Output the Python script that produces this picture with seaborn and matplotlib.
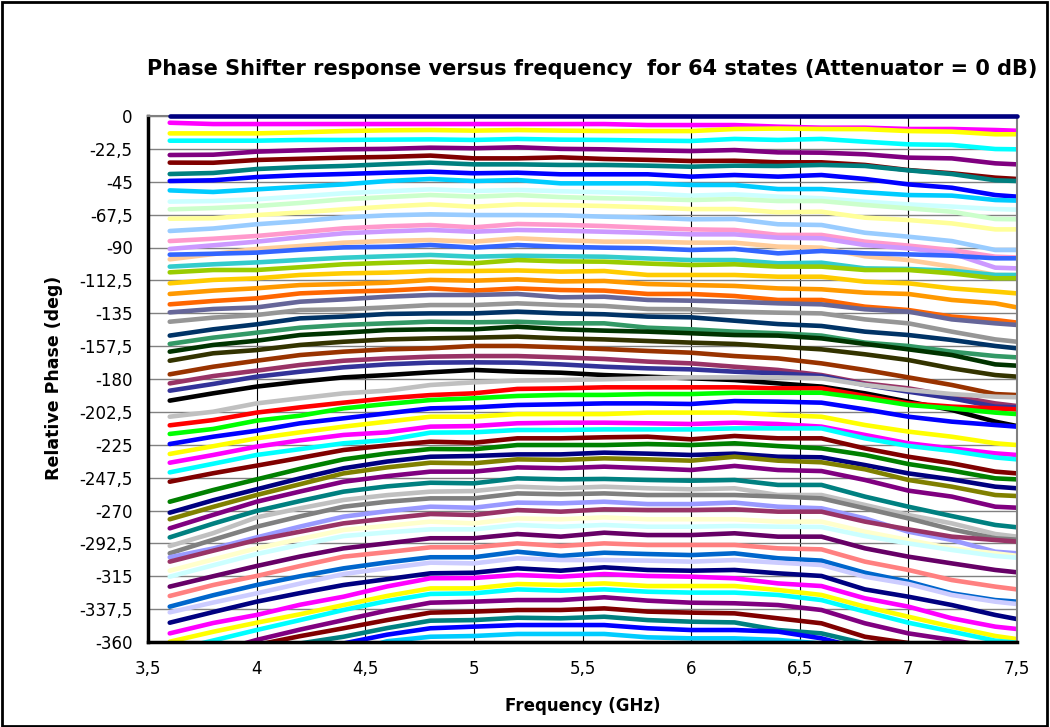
import matplotlib
matplotlib.use("Agg")
import matplotlib.pyplot as plt
from matplotlib.patches import Rectangle
import seaborn as sns
import pandas as pd

# frequency points of the sweep (GHz)
freq_ghz = [3.6, 3.8, 4.0, 4.2, 4.4, 4.6, 4.8, 5.0, 5.2, 5.4, 5.6,
            5.8, 6.0, 6.2, 6.4, 6.6, 6.8, 7.0, 7.2, 7.4, 7.5]

# relative phase (deg) of each of the 64 states
state_00 = [0.0] * 21
state_01 = [-4.6, -5.5, -5.5, -5.5, -5.5, -5.5, -5.5, -5.5, -5.5, -5.5, -5.5, -6.2, -6.2, -6.2, -7.3, -8.0, -8.0, -8.9, -8.9, -9.6, -10.1]
state_02 = [-11.9, -11.9, -11.9, -11.2, -10.3, -9.8, -9.6, -10.0, -9.6, -10.0, -10.3, -10.3, -10.3, -8.9, -8.6, -8.9, -9.0, -10.3, -10.7, -12.5, -12.5]
state_03 = [-16.9, -16.9, -16.9, -16.4, -16.4, -16.2, -16.0, -16.4, -15.7, -16.2, -16.4, -16.8, -17.1, -15.7, -16.4, -15.7, -17.6, -19.4, -19.8, -22.6, -22.8]
state_04 = [-26.7, -26.5, -24.4, -23.5, -22.8, -22.5, -21.7, -22.1, -21.4, -22.5, -22.8, -23.5, -24.0, -23.3, -24.9, -25.1, -26.2, -28.5, -29.0, -32.4, -33.1]
state_05 = [-31.9, -32.0, -30.1, -29.3, -28.5, -28.0, -27.1, -29.0, -29.0, -28.3, -29.4, -30.0, -30.8, -30.6, -31.7, -31.7, -33.5, -37.0, -39.2, -42.2, -43.1]
state_06 = [-39.7, -39.0, -36.3, -35.0, -34.2, -33.0, -31.9, -33.1, -33.1, -33.5, -33.5, -34.0, -34.7, -34.0, -34.2, -33.5, -34.2, -37.2, -39.7, -44.0, -44.5]
state_07 = [-44.5, -44.0, -41.8, -40.5, -39.7, -38.8, -38.1, -39.2, -38.8, -39.9, -39.9, -39.9, -41.5, -40.4, -41.5, -40.4, -43.1, -46.8, -49.1, -54.1, -55.2]
state_08 = [-50.9, -52.0, -50.2, -48.5, -46.8, -44.5, -43.1, -44.5, -43.8, -46.1, -46.1, -46.1, -47.2, -47.2, -50.0, -50.0, -52.2, -54.1, -54.5, -57.5, -57.9]
state_09 = [-58.6, -58.2, -57.0, -55.0, -52.9, -51.5, -50.2, -51.3, -50.6, -51.5, -52.2, -53.0, -54.5, -53.6, -55.2, -56.3, -58.6, -60.5, -62.0, -63.7, -64.1]
state_10 = [-63.9, -63.0, -61.6, -59.5, -57.0, -55.5, -54.1, -55.2, -54.1, -55.5, -56.3, -56.8, -57.5, -56.8, -58.2, -58.2, -60.9, -63.2, -65.5, -70.5, -70.7]
state_11 = [-70.3, -70.0, -67.8, -66.0, -63.9, -62.0, -60.5, -62.1, -60.5, -61.0, -61.6, -62.5, -63.7, -63.7, -65.9, -65.5, -69.6, -71.2, -73.5, -77.6, -77.6]
state_12 = [-78.7, -77.0, -74.1, -72.0, -69.4, -68.0, -67.3, -67.8, -67.8, -68.0, -68.9, -69.5, -70.7, -70.5, -74.1, -74.6, -79.9, -82.6, -85.6, -91.7, -91.7]
state_13 = [-85.6, -84.0, -82.1, -79.5, -76.9, -75.5, -74.6, -76.2, -73.9, -74.5, -75.3, -76.5, -77.6, -78.0, -81.4, -81.4, -86.0, -88.7, -91.7, -96.3, -96.8]
state_14 = [-91.0, -88.5, -86.0, -83.0, -80.3, -79.0, -78.0, -79.2, -78.0, -78.5, -79.2, -80.0, -81.0, -81.0, -83.3, -83.7, -88.3, -90.6, -94.0, -103.8, -104.3]
state_15 = [-98.1, -94.5, -91.0, -89.0, -86.7, -85.5, -84.9, -86.0, -83.7, -85.0, -86.0, -86.0, -86.7, -86.7, -89.4, -90.1, -96.0, -98.6, -103.1, -108.8, -109.0]
state_16 = [-94.9, -94.3, -93.5, -91.5, -89.9, -89.5, -88.3, -90.1, -88.3, -89.5, -90.1, -90.5, -91.7, -91.0, -94.0, -92.4, -94.0, -94.7, -95.6, -97.4, -97.4]
state_17 = [-103.1, -101.5, -100.2, -98.5, -97.0, -96.0, -95.1, -96.3, -95.6, -96.0, -96.3, -97.5, -98.6, -98.6, -100.8, -100.4, -104.3, -104.7, -105.9, -108.8, -108.8]
state_18 = [-107.0, -105.4, -105.4, -103.5, -101.5, -100.5, -99.7, -100.8, -98.6, -99.5, -99.7, -101.0, -102.0, -101.5, -103.1, -103.1, -105.4, -105.4, -107.7, -111.1, -111.0]
state_19 = [-114.5, -112.2, -111.1, -108.8, -107.7, -107.2, -106.1, -106.1, -105.7, -106.5, -106.1, -108.8, -108.8, -108.8, -110.0, -110.0, -113.4, -114.5, -118.0, -120.2, -121.4]
state_20 = [-121.8, -119.5, -117.9, -115.7, -115.0, -114.1, -112.2, -112.7, -111.8, -113.2, -112.9, -115.0, -115.7, -116.3, -118.0, -118.6, -120.9, -121.8, -125.9, -128.2, -131.0]
state_21 = [-128.9, -126.6, -124.8, -121.4, -120.2, -119.5, -118.0, -119.5, -118.0, -119.1, -119.5, -121.8, -121.8, -123.2, -125.9, -125.9, -130.5, -132.8, -137.3, -139.6, -141.4]
state_22 = [-134.4, -132.1, -131.0, -127.1, -125.5, -123.7, -122.5, -122.5, -121.8, -124.1, -123.7, -125.9, -126.4, -127.1, -128.2, -128.9, -132.3, -133.9, -139.2, -141.9, -143.0]
state_23 = [-140.8, -138.0, -136.2, -132.8, -132.3, -131.0, -129.4, -129.4, -128.2, -129.4, -130.0, -132.1, -132.3, -133.9, -134.6, -135.1, -139.2, -141.9, -147.6, -152.9, -154.5]
state_24 = [-150.3, -146.0, -142.6, -138.5, -137.3, -135.5, -135.1, -135.1, -133.9, -135.1, -135.7, -137.3, -137.8, -140.1, -142.4, -143.7, -147.6, -149.9, -153.3, -157.4, -159.0]
state_25 = [-156.0, -151.7, -148.3, -144.9, -143.0, -141.9, -140.8, -141.2, -140.8, -141.9, -141.9, -144.9, -146.0, -147.6, -148.7, -150.3, -155.1, -157.4, -161.3, -164.3, -165.2]
state_26 = [-161.3, -156.7, -153.8, -149.9, -148.3, -146.5, -146.0, -146.0, -144.2, -146.0, -146.9, -147.6, -148.7, -149.9, -150.3, -152.2, -156.0, -159.7, -163.6, -170.0, -170.9]
state_27 = [-167.5, -162.4, -160.2, -156.7, -154.5, -152.9, -152.2, -151.7, -151.0, -152.2, -152.9, -154.0, -155.1, -156.0, -157.9, -159.7, -163.1, -167.0, -172.7, -177.3, -178.4]
state_28 = [-176.8, -171.6, -167.5, -163.6, -161.3, -159.7, -159.0, -157.4, -157.4, -158.3, -159.5, -160.8, -162.0, -164.3, -165.9, -169.3, -173.8, -178.9, -184.1, -190.3, -191.0]
state_29 = [-183.0, -178.0, -174.3, -170.4, -167.5, -165.9, -164.7, -164.3, -164.3, -165.2, -166.3, -168.1, -169.3, -171.6, -173.8, -177.3, -183.0, -186.4, -191.6, -196.7, -198.5]
state_30 = [-188.0, -183.4, -178.4, -175.0, -172.0, -170.0, -168.8, -168.6, -168.8, -170.0, -171.6, -172.7, -173.4, -175.0, -176.1, -178.0, -184.1, -188.7, -193.2, -198.9, -199.4]
state_31 = [-194.8, -189.8, -185.2, -181.8, -178.9, -177.3, -175.4, -173.8, -175.0, -175.7, -177.3, -178.4, -179.5, -180.7, -183.0, -185.2, -189.8, -195.5, -201.2, -209.2, -212.2]
state_32 = [-205.8, -202.4, -196.7, -193.2, -189.8, -188.0, -184.1, -182.3, -181.1, -180.7, -180.2, -179.5, -178.9, -178.9, -178.9, -179.5, -184.1, -187.5, -190.3, -192.1, -192.5]
state_33 = [-211.7, -208.1, -203.0, -199.4, -196.2, -193.2, -191.0, -189.8, -186.8, -186.4, -185.7, -185.7, -185.7, -185.7, -186.4, -186.4, -191.6, -196.7, -198.9, -200.1, -200.8]
state_34 = [-217.6, -214.2, -208.5, -205.1, -200.1, -197.1, -194.4, -193.2, -191.6, -190.9, -190.9, -190.3, -190.3, -189.4, -189.4, -189.4, -193.2, -197.8, -200.1, -203.0, -204.0]
state_35 = [-224.5, -219.5, -215.4, -210.3, -206.9, -203.5, -200.1, -199.4, -197.8, -197.3, -196.7, -196.7, -197.1, -195.1, -195.5, -196.2, -200.8, -205.8, -209.2, -211.5, -212.6]
state_36 = [-231.3, -226.0, -220.6, -216.5, -212.6, -209.2, -205.8, -205.8, -204.0, -204.0, -204.0, -203.0, -203.0, -203.0, -204.6, -205.8, -211.5, -216.0, -219.5, -224.0, -225.2]
state_37 = [-237.3, -232.0, -226.3, -222.0, -218.3, -216.5, -212.6, -212.2, -210.3, -209.9, -209.9, -210.3, -210.8, -209.9, -210.8, -212.6, -218.3, -224.0, -227.5, -230.9, -232.0]
state_38 = [-243.9, -238.0, -232.0, -228.0, -224.0, -221.8, -216.7, -216.5, -214.9, -214.9, -214.5, -214.5, -214.5, -213.8, -213.8, -213.8, -220.6, -225.8, -229.2, -233.7, -235.0]
state_39 = [-250.3, -244.5, -239.3, -234.0, -228.6, -225.5, -222.9, -223.6, -220.6, -220.6, -219.9, -219.5, -221.3, -219.0, -220.6, -220.6, -227.5, -233.2, -237.7, -243.4, -244.6]
state_40 = [-264.0, -256.0, -248.7, -241.5, -235.0, -231.0, -227.9, -228.1, -225.2, -225.2, -225.2, -224.5, -225.2, -224.0, -225.9, -227.5, -232.0, -238.2, -242.7, -248.0, -248.7]
state_41 = [-271.5, -263.0, -255.5, -248.0, -241.1, -236.5, -233.2, -232.7, -231.6, -231.6, -230.4, -231.1, -232.0, -231.1, -233.2, -233.6, -238.9, -244.6, -248.7, -253.7, -254.8]
state_42 = [-276.0, -267.5, -259.4, -252.0, -244.6, -240.5, -237.3, -237.7, -235.0, -235.4, -234.3, -235.0, -235.9, -233.2, -235.9, -237.0, -241.8, -249.1, -253.7, -259.4, -260.1]
state_43 = [-282.2, -273.0, -264.0, -257.0, -250.3, -246.5, -243.4, -243.4, -240.5, -241.1, -240.0, -241.1, -242.3, -239.5, -242.3, -243.0, -249.1, -256.4, -260.5, -267.4, -268.1]
state_44 = [-288.4, -279.0, -270.3, -263.5, -257.1, -253.5, -251.0, -251.4, -248.0, -248.7, -248.4, -249.1, -249.6, -249.1, -252.5, -252.5, -260.5, -267.4, -273.8, -279.9, -281.5]
state_45 = [-294.3, -285.5, -274.7, -268.5, -262.8, -259.5, -257.1, -256.7, -253.7, -254.8, -253.7, -254.8, -255.5, -254.8, -259.4, -259.4, -266.2, -273.1, -278.8, -286.1, -287.9]
state_46 = [-299.3, -290.0, -281.1, -274.0, -267.4, -264.0, -261.7, -261.7, -258.3, -258.9, -258.3, -259.4, -259.4, -259.4, -260.5, -261.7, -268.5, -275.4, -282.9, -289.0, -290.0]
state_47 = [-302.0, -296.0, -288.4, -281.0, -274.2, -270.5, -267.4, -268.1, -264.6, -265.1, -264.0, -265.6, -265.6, -264.6, -267.4, -268.5, -275.4, -284.5, -290.2, -298.2, -299.3]
state_48 = [-305.0, -297.5, -290.2, -284.5, -278.8, -275.5, -272.4, -273.1, -269.7, -270.8, -269.2, -269.7, -269.7, -269.2, -270.8, -270.8, -277.6, -282.9, -287.9, -290.2, -291.3]
state_49 = [-311.2, -303.5, -295.9, -289.5, -283.3, -280.5, -277.6, -278.8, -275.4, -276.0, -274.7, -276.0, -276.0, -276.0, -277.6, -277.6, -284.5, -290.2, -295.9, -299.3, -301.0]
state_50 = [-315.3, -307.5, -299.8, -293.5, -287.5, -285.0, -282.9, -282.9, -279.9, -281.1, -279.9, -281.1, -281.1, -280.6, -281.1, -281.3, -287.5, -292.5, -297.0, -301.1, -302.3]
state_51 = [-322.1, -315.0, -308.0, -301.5, -295.9, -292.5, -289.0, -289.0, -286.1, -287.9, -285.2, -286.8, -286.8, -285.6, -287.9, -287.9, -295.9, -301.6, -306.2, -310.7, -312.3]
state_52 = [-328.5, -321.0, -314.8, -308.0, -301.6, -298.5, -295.2, -295.2, -292.5, -294.3, -292.5, -293.6, -293.6, -293.6, -295.9, -296.6, -305.0, -310.7, -317.6, -322.1, -324.0]
state_53 = [-335.8, -328.0, -321.0, -315.0, -309.6, -305.5, -302.0, -302.0, -298.2, -301.1, -298.9, -299.8, -300.5, -299.3, -302.7, -304.3, -312.6, -318.7, -326.7, -331.3, -332.4]
state_54 = [-339.7, -333.0, -326.7, -320.0, -313.5, -309.5, -305.7, -306.2, -302.7, -303.9, -303.9, -304.3, -305.0, -303.9, -305.7, -307.3, -315.3, -320.3, -327.8, -332.4, -334.0]
state_55 = [-346.8, -339.5, -332.4, -326.5, -321.0, -317.0, -313.0, -312.6, -309.6, -311.2, -308.9, -310.7, -311.2, -310.7, -313.0, -314.8, -324.0, -329.0, -334.7, -341.5, -344.3]
state_56 = [-354.1, -347.0, -341.5, -334.5, -329.0, -322.0, -316.4, -316.2, -314.1, -315.3, -313.5, -314.8, -315.3, -316.4, -319.9, -321.7, -330.1, -335.8, -343.8, -349.5, -351.1]
state_57 = [-359.8, -353.0, -346.8, -341.0, -334.7, -328.5, -323.3, -323.3, -320.3, -321.0, -319.9, -321.7, -321.7, -321.7, -324.4, -327.8, -335.8, -342.7, -349.5, -355.9, -358.0]
state_58 = [-366.0, -359.0, -351.8, -345.0, -338.1, -332.0, -327.1, -326.7, -324.0, -324.9, -324.0, -325.6, -326.2, -326.2, -327.8, -331.3, -339.2, -346.8, -352.9, -359.1, -360.5]
state_59 = [-375.0, -367.0, -358.6, -351.5, -345.0, -338.5, -333.1, -332.4, -331.3, -331.3, -329.4, -331.7, -333.1, -333.5, -334.7, -338.1, -347.2, -354.1, -358.6, -364.0, -366.0]
state_60 = [-385.0, -372.0, -362.0, -356.0, -350.6, -345.0, -339.9, -339.2, -338.1, -338.1, -337.0, -339.2, -339.9, -340.4, -343.8, -347.2, -356.4, -360.7, -366.0, -372.0, -374.0]
state_61 = [-395.0, -380.0, -370.0, -361.0, -356.4, -350.5, -345.4, -345.0, -343.4, -343.8, -342.7, -345.0, -346.1, -346.6, -351.8, -354.1, -361.0, -368.0, -374.0, -380.0, -382.0]
state_62 = [-402.0, -388.0, -378.0, -368.0, -361.0, -355.0, -350.6, -349.5, -348.4, -348.4, -348.4, -350.6, -351.8, -351.8, -352.9, -357.5, -365.0, -372.0, -378.0, -384.0, -386.0]
state_63 = [-410.0, -395.0, -386.0, -375.0, -368.0, -359.5, -356.4, -355.9, -354.5, -354.5, -354.5, -356.8, -357.5, -357.5, -358.6, -361.0, -368.0, -376.0, -382.0, -388.0, -390.0]

states = [state_00, state_01, state_02, state_03, state_04, state_05, state_06, state_07,
          state_08, state_09, state_10, state_11, state_12, state_13, state_14, state_15,
          state_16, state_17, state_18, state_19, state_20, state_21, state_22, state_23,
          state_24, state_25, state_26, state_27, state_28, state_29, state_30, state_31,
          state_32, state_33, state_34, state_35, state_36, state_37, state_38, state_39,
          state_40, state_41, state_42, state_43, state_44, state_45, state_46, state_47,
          state_48, state_49, state_50, state_51, state_52, state_53, state_54, state_55,
          state_56, state_57, state_58, state_59, state_60, state_61, state_62, state_63]

# old Excel automatic series colours, in series order
state_colors = [
    "#000080", "#FF00FF", "#FFFF00", "#00FFFF", "#800080", "#800000", "#008080", "#0000FF",
    "#00CCFF", "#CCFFFF", "#CCFFCC", "#FFFF99", "#99CCFF", "#FF99CC", "#CC99FF", "#FFCC99",
    "#3366FF", "#33CCCC", "#99CC00", "#FFCC00", "#FF9900", "#FF6600", "#666699", "#969696",
    "#003366", "#339966", "#003300", "#333300", "#993300", "#993366", "#333399", "#000000",
    "#C0C0C0", "#FF0000", "#00FF00", "#0000FF", "#FFFF00", "#FF00FF", "#00FFFF", "#800000",
    "#008000", "#000080", "#808000", "#800080", "#008080", "#C0C0C0", "#808080", "#9999FF",
    "#993366", "#FFFFCC", "#CCFFFF", "#660066", "#FF8080", "#0066CC", "#CCCCFF", "#000080",
    "#FF00FF", "#FFFF00", "#00FFFF", "#800080", "#800000", "#008080", "#0000FF", "#00CCFF",
]

x_ticks = [3.5, 4.0, 4.5, 5.0, 5.5, 6.0, 6.5, 7.0, 7.5]
x_tick_labels = ["3,5", "4", "4,5", "5", "5,5", "6", "6,5", "7", "7,5"]
y_ticks = [0, -22.5, -45, -67.5, -90, -112.5, -135, -157.5, -180,
           -202.5, -225, -247.5, -270, -292.5, -315, -337.5, -360]
y_tick_labels = ["0", "-22,5", "-45", "-67,5", "-90", "-112,5", "-135", "-157,5", "-180",
                 "-202,5", "-225", "-247,5", "-270", "-292,5", "-315", "-337,5", "-360"]

rows = []
for k, vals in enumerate(states):
    for f, v in zip(freq_ghz, vals):
        rows.append({"freq": f, "phase": v, "state": "S%02d" % k})
df = pd.DataFrame(rows)
order = ["S%02d" % k for k in range(len(states))]

sns.set_style("white")
plt.rcParams["font.family"] = ["DejaVu Sans"]
plt.rcParams["text.color"] = "black"
plt.rcParams["axes.labelcolor"] = "black"

fig = plt.figure(figsize=(10.5, 7.27), dpi=100)
ax = fig.add_axes([148 / 1050, 1 - 642 / 727, 869 / 1050, 526 / 727])

sns.lineplot(data=df, x="freq", y="phase", hue="state", hue_order=order,
             palette=state_colors, linewidth=3.3, legend=False,
             estimator=None, sort=False, ax=ax)

# the 0 deg reference sits on the top edge, keep it whole
ax.lines[0].set_clip_on(False)
ax.lines[0].set_zorder(3)

ax.set_xlim(3.5, 7.5)
ax.set_ylim(-360, 0)
ax.set_xticks(x_ticks)
ax.set_xticklabels(x_tick_labels)
ax.set_yticks(y_ticks)
ax.set_yticklabels(y_tick_labels)

ax.set_axisbelow(True)
ax.yaxis.grid(True, color="#808080", linewidth=1.0)
ax.xaxis.grid(True, color="#000000", linewidth=0.8)

for side in ["left", "bottom"]:
    ax.spines[side].set_color("black")
    ax.spines[side].set_linewidth(2.5)
for side in ["top", "right"]:
    ax.spines[side].set_color("#808080")
    ax.spines[side].set_linewidth(1.5)

ax.tick_params(axis="both", which="major", direction="out", colors="black",
               labelsize=12, width=2, length=5)
ax.tick_params(axis="y", pad=6)
ax.tick_params(axis="x", pad=8)

ax.set_xlabel("Frequency (GHz)", fontsize=12, fontweight="bold", color="black")
ax.set_ylabel("Relative Phase (deg)", fontsize=12.5, fontweight="bold", color="black")
ax.xaxis.set_label_coords(0.5, -0.105)
ax.yaxis.set_label_coords(-0.098, 0.503)

ax.set_title("Phase Shifter response versus frequency  for 64 states (Attenuator = 0 dB)",
             fontsize=15, fontweight="bold", color="black",
             x=(592 - 148) / 869, y=1.063)

# chart area border
fig.patches.append(Rectangle((0.0015, 0.002), 0.996, 0.995, transform=fig.transFigure,
                             fill=False, edgecolor="black", linewidth=2))

fig.savefig("out.png", dpi=100, facecolor="white")
